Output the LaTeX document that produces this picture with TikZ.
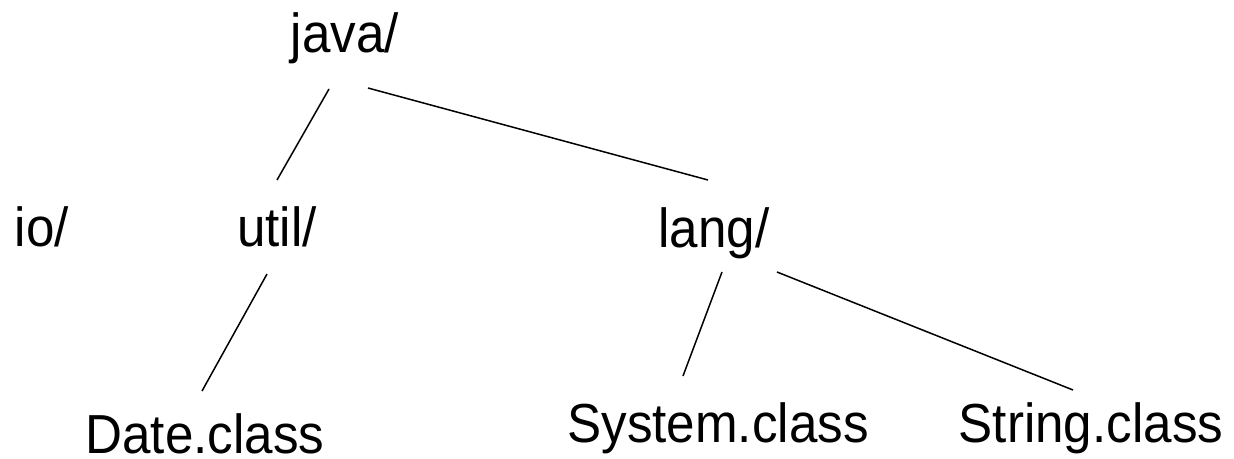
\documentclass[tikz,border=0pt]{standalone}
\usepackage{fontspec}
\setmainfont{Liberation Sans}[FakeStretch=0.93]
\usetikzlibrary{calc}
\begin{document}
\begin{tikzpicture}[x=1pt,y=-1pt,
  lbl/.style={anchor=base,inner sep=0pt,font=\fontsize{55}{66}\selectfont},
  edge/.style={line width=1.5pt,black}]
\useasboundingbox (0,0) rectangle (1234,458);
\node[lbl] (java) at (345,52) {java/};
\node[lbl] (io) at (42,246) {io/};
\node[lbl] (util) at (277,246) {util/};
\node[lbl] (lang) at (714,247) {lang/};
\node[lbl] (date) at (205,453) {Date.class};
\node[lbl] (system) at (718,442) {System.class};
\node[lbl] (string) at (1091,442) {String.class};
\draw[edge] ($(java.base)+(-16,37)$) -- ($(util.base)+(0,-66)$);
\draw[edge] ($(java.base)+(23,36)$) -- ($(lang.base)+(-6,-67)$);
\draw[edge] ($(util.base)+(-10,28)$) -- ($(date.base)+(-3,-62)$);
\draw[edge] ($(lang.base)+(8,25)$) -- ($(system.base)+(-35,-66)$);
\draw[edge] ($(lang.base)+(63,25)$) -- ($(string.base)+(-18,-52)$);
\end{tikzpicture}
\end{document}
